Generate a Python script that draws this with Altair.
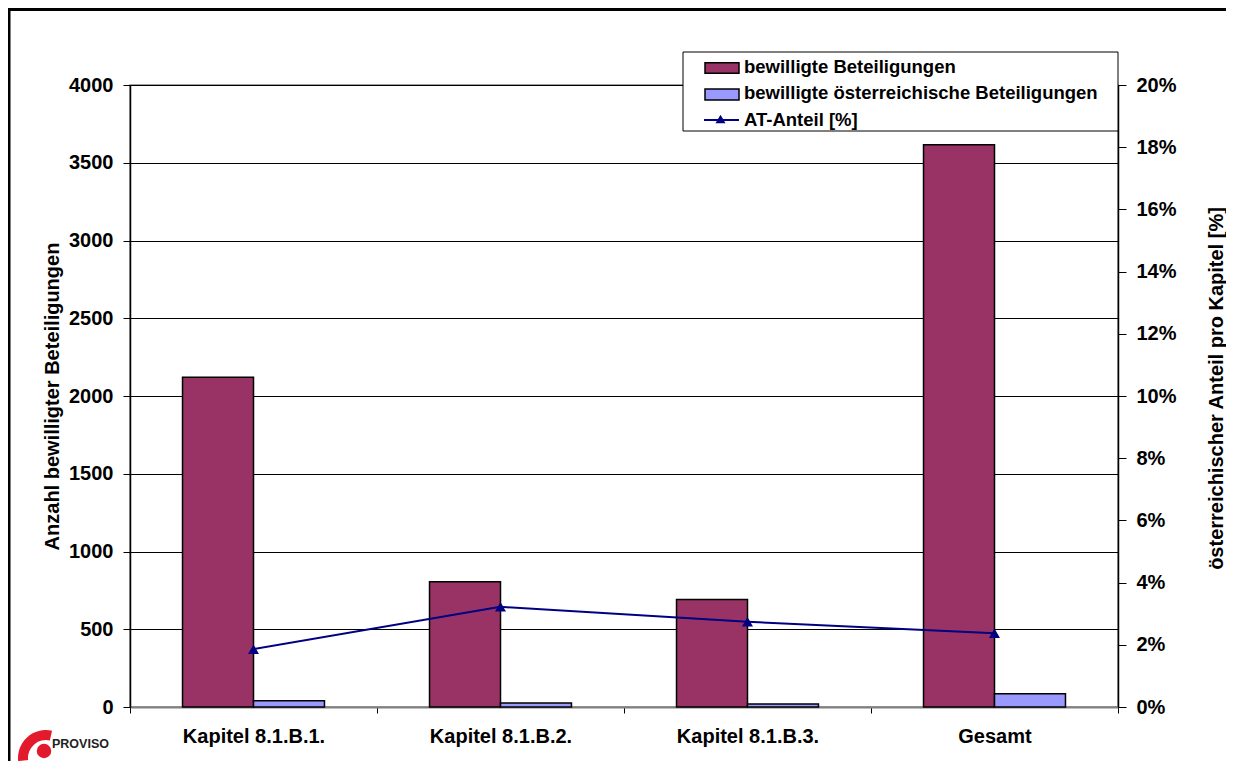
import altair as alt
import pandas as pd

# ---------------- data ----------------
categories = ["Kapitel 8.1.B.1.", "Kapitel 8.1.B.2.", "Kapitel 8.1.B.3.", "Gesamt"]
series_names = ["bewilligte Beteiligungen", "bewilligte österreichische Beteiligungen"]
bewilligt = [2120, 805, 692, 3615]
bewilligt_at = [40, 26, 19, 86]
line_name = "AT-Anteil [%]"
at_anteil = [1.86, 3.22, 2.74, 2.37]
left_ticks = list(range(0, 4001, 500))
right_ticks = list(range(0, 21, 2))
left_title = "Anzahl bewilligter Beteiligungen"
right_title = "österreichischer Anteil pro Kapitel [%]"
logo_text = "PROVISO"

# ---------------- style ----------------
bar_colors = ["#993366", "#9999FF"]
line_color = "#000080"
FONT = "Liberation Sans"
W, H = 988, 622

bars_df = pd.DataFrame({
    "Kapitel": categories * 2,
    "Reihe": [series_names[0]] * len(categories) + [series_names[1]] * len(categories),
    "Wert": bewilligt + bewilligt_at,
})
line_df = pd.DataFrame({"Kapitel": categories, "Anteil": at_anteil})
one = pd.DataFrame({"k": [0]})

x_axis = alt.Axis(
    title=None, labelAngle=0, labelFontSize=20, labelFontWeight="bold", labelFont=FONT,
    labelColor="black", labelPadding=13, tickBand="extent", tickSize=6, tickColor="black",
    tickWidth=1, domainColor="#808080", domainWidth=2, grid=False,
)

bars = alt.Chart(bars_df).mark_bar(stroke="black", strokeWidth=1.5).encode(
    x=alt.X("Kapitel:N", sort=categories,
            scale=alt.Scale(domain=categories, paddingInner=0, paddingOuter=0), axis=x_axis),
    xOffset=alt.XOffset("Reihe:N", sort=series_names,
                        scale=alt.Scale(domain=series_names, paddingInner=0, paddingOuter=0.74)),
    y=alt.Y("Wert:Q", scale=alt.Scale(domain=[0, 4000], nice=False),
            axis=alt.Axis(values=left_ticks, format="d", title=left_title, grid=True,
                          gridColor="#000000", gridWidth=1, domainColor="black", domainWidth=1.5,
                          tickColor="black", tickSize=7, labelPadding=10, labelFontSize=20,
                          labelFontWeight="bold", labelFont=FONT, labelColor="black",
                          titleFont=FONT, titleFontSize=20, titleFontWeight="bold",
                          titleColor="black", titleAngle=270, titleX=-78, titleY=311,
                          titleAlign="center", titleBaseline="middle")),
    color=alt.Color("Reihe:N", scale=alt.Scale(domain=series_names, range=bar_colors), legend=None),
)

line = alt.Chart(line_df).mark_line(
    color=line_color, strokeWidth=2,
    point=alt.OverlayMarkDef(shape="triangle-up", filled=True, color=line_color, size=120, opacity=1),
).encode(
    x=alt.X("Kapitel:N", sort=categories),
    y=alt.Y("Anteil:Q", scale=alt.Scale(domain=[0, 20], nice=False),
            axis=alt.Axis(orient="right", values=right_ticks, labelExpr="datum.value + '%'",
                          title=right_title, grid=False, domainColor="black", domainWidth=1.5,
                          tickColor="black", tickSize=8, labelPadding=10, labelFontSize=20,
                          labelFontWeight="bold", labelFont=FONT, labelColor="black",
                          titleFont=FONT, titleFontSize=20, titleFontWeight="bold",
                          titleColor="black", titleAngle=270, titleX=98, titleY=303,
                          titleAlign="center", titleBaseline="middle")),
)

# outer frame
frame = alt.Chart(one).mark_rect(fill="white", fillOpacity=0, stroke="black", strokeWidth=3).encode(
    x=alt.value(-121), x2=alt.value(1120), y=alt.value(-75.5), y2=alt.value(700),
)

# legend (manual, Excel style)
legend_layers = [
    alt.Chart(one).mark_rect(fill="white", stroke="black", strokeWidth=1).encode(
        x=alt.value(553), x2=alt.value(988), y=alt.value(-33), y2=alt.value(46)),
]
swatch_rows = [(-22.3, -11.7), (4, 15)]
text_base = [-11.7, 14.3, 41]
for i, name in enumerate(series_names):
    y0, y1 = swatch_rows[i]
    legend_layers.append(
        alt.Chart(one).mark_rect(fill=bar_colors[i], stroke="black", strokeWidth=1.5).encode(
            x=alt.value(575), x2=alt.value(609), y=alt.value(y0), y2=alt.value(y1)))
legend_layers.append(
    alt.Chart(one).mark_rule(color=line_color, strokeWidth=2).encode(
        x=alt.value(574), x2=alt.value(609), y=alt.value(35)))
legend_layers.append(
    alt.Chart(one).mark_point(shape="triangle-up", filled=True, color=line_color, size=100, opacity=1).encode(
        x=alt.value(590.5), y=alt.value(34)))
for name, yb in zip(series_names + [line_name], text_base):
    legend_layers.append(
        alt.Chart(one).mark_text(text=name, font=FONT, fontSize=18.5, fontWeight="bold", color="black",
                                 align="left", baseline="alphabetic").encode(
            x=alt.value(614), y=alt.value(yb)))

# logo
logo_layers = [
    alt.Chart(one).mark_arc(radius=28, radius2=18, theta=4.6, theta2=6.5, color="#E3192C").encode(
        x=alt.value(-84), y=alt.value(673)),
    alt.Chart(one).mark_point(shape="circle", filled=True, color="#E3192C", size=210, opacity=1).encode(
        x=alt.value(-86), y=alt.value(666)),
    alt.Chart(one).mark_text(text=logo_text, font=FONT, fontSize=12.5,
                             fontWeight="bold", color="#222222", align="left", baseline="middle").encode(
        x=alt.value(-78), y=alt.value(659)),
]

chart = alt.layer(frame, bars, line, *legend_layers, *logo_layers).resolve_scale(
    y="independent"
).properties(
    width=W, height=H,
    autosize=alt.AutoSizeParams(type="none"),
    padding={"left": 122, "top": 77, "right": 108, "bottom": 54},
    background="white",
).configure_view(stroke="#808080", strokeWidth=1.5)

chart.save("out.html", embed_options={"renderer": "svg", "actions": False})
